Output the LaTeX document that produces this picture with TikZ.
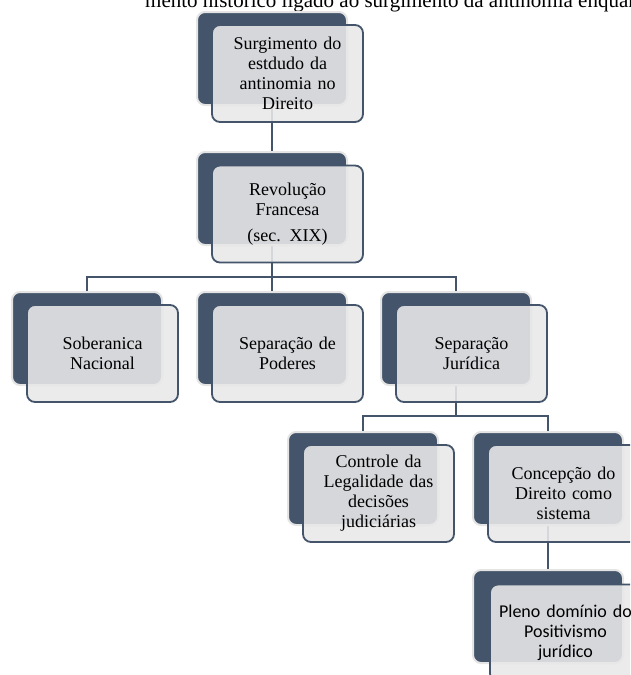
\documentclass[tikz,border=0pt]{standalone}
\usepackage{fontspec}
\setmainfont{Liberation Serif}
\newfontfamily\calfont{Carlito}
\usetikzlibrary{positioning}
\definecolor{darkc}{HTML}{44546A}
\definecolor{lightc}{HTML}{E8E8E8}
\definecolor{haloc}{HTML}{E4E4E4}
\pgfdeclarelayer{bg}
\pgfsetlayers{bg,main}
\tikzset{
  darkbox/.style={fill=darkc, draw=haloc, line width=2pt, rounded corners=8pt,
    minimum width=150pt, minimum height=93pt, inner sep=0pt},
  lightbox/.style={fill=lightc, fill opacity=0.89, text opacity=1, draw=darkc, draw opacity=1,
    line width=1.8pt, rounded corners=8pt, minimum width=151pt, minimum height=97pt,
    inner sep=0pt, align=center, text width=145pt,
    font=\fontsize{18}{20}\selectfont},
  conn/.style={draw=darkc, line width=2pt},
}
\begin{document}
\begin{tikzpicture}[x=1pt,y=-1pt]
\useasboundingbox (0,0) rectangle (630,675);
\clip (0,0) rectangle (630,675);
\node[anchor=base west, font=\fontsize{21}{24}\selectfont, inner sep=0pt] (title) at (145,7)
  {mento histórico ligado ao surgimento da antinomia enquanto};
% row 1
\node[darkbox] (d1) at (272,58.5) {};
\node[lightbox] (l1) at (287.5,73.5) {Surgimento do\\estdudo da\\antinomia no\\Direito};
% row 2
\node[darkbox] (d2) at (272,198.5) {};
\node[lightbox] (l2) at (287.5,214) {Revolução\\Francesa\\[6pt](sec. XIX)};
% row 3
\node[darkbox] (d3a) at (87,338.5) {};
\node[lightbox] (l3a) at (102.5,353.5) {Soberanica\\Nacional};
\node[darkbox] (d3b) at (272,338.5) {};
\node[lightbox] (l3b) at (287.5,353.5) {Separação de\\Poderes};
\node[darkbox] (d3c) at (456,338.5) {};
\node[lightbox] (l3c) at (471.5,353.5) {Separação\\Jurídica};
% row 4
\node[darkbox] (d4a) at (363,478.5) {};
\node[lightbox] (l4a) at (378.5,493.5) {Controle da\\Legalidade das\\decisões\\judiciárias};
\node[darkbox] (d4b) at (548,478.5) {};
\node[lightbox] (l4b) at (563.5,493.5) {Concepção do\\Direito como\\sistema};
% row 5
\node[darkbox] (d5) at (548,616.5) {};
\node[lightbox, font=\calfont\fontsize{18}{20}\selectfont] (l5) at (565.5,633) {Pleno domínio do\\Positivismo\\jurídico};
\coordinate (h1) at (0,277);
\coordinate (h2) at (0,416);
\begin{pgfonlayer}{bg}
\draw[conn] (d1.south) -- (d2.north);
\draw[conn] (d2.south) -- (d2.south |- h1);
\draw[conn] (d3a.north) -- (d3a.north |- h1) -- (d3c.north |- h1) -- (d3c.north);
\draw[conn] (d3b.north) -- (d3b.north |- h1);
\draw[conn] (d3c.south) -- (d3c.south |- h2);
\draw[conn] (d4a.north) -- (d4a.north |- h2) -- (d4b.north |- h2) -- (d4b.north);
\draw[conn] (d4b.south) -- (d5.north);
\end{pgfonlayer}
\end{tikzpicture}
\end{document}
